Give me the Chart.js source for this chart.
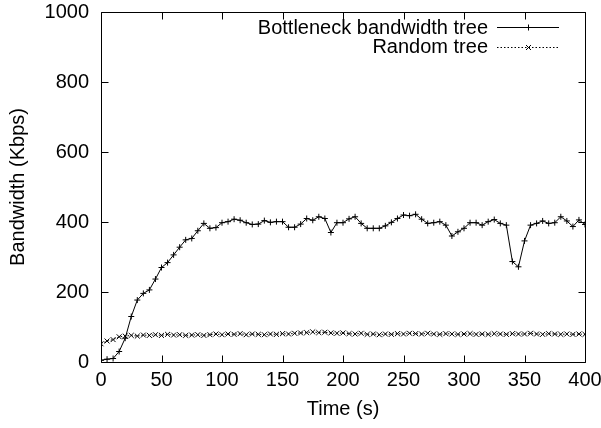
<!DOCTYPE html>
<html>
<head>
<meta charset="utf-8">
<script src="https://cdn.jsdelivr.net/npm/chart.js@4/dist/chart.umd.min.js"></script>
<style>
  html, body { margin: 0; padding: 0; background: #fff; }
  #wrap { width: 601px; height: 428px; }
</style>
</head>
<body>
<div id="wrap"><canvas id="bwChart" width="601" height="428"></canvas></div>
<script>
// Time samples (s)
const times = [0, 5, 10, 15, 20, 25, 30, 35, 40, 45, 50, 55, 60, 65, 70, 75, 80, 85, 90, 95,
  100, 105, 110, 115, 120, 125, 130, 135, 140, 145, 150, 155, 160, 165, 170, 175, 180, 185, 190, 195,
  200, 205, 210, 215, 220, 225, 230, 235, 240, 245, 250, 255, 260, 265, 270, 275, 280, 285, 290, 295,
  300, 305, 310, 315, 320, 325, 330, 335, 340, 345, 350, 355, 360, 365, 370, 375, 380, 385, 390, 395, 400];

// Bandwidth (Kbps)
const bottleneck = [5, 8, 10, 30, 68, 130, 177, 196, 206, 237, 270, 284, 306, 328, 349, 353, 375, 396, 382, 384,
  398, 401, 408, 405, 398, 393, 394, 404, 399, 401, 401, 385, 385, 394, 410, 405, 415, 410, 370, 398,
  398, 409, 415, 396, 382, 382, 382, 389, 399, 410, 420, 418, 422, 408, 396, 398, 401, 391, 360, 372,
  382, 398, 398, 391, 401, 407, 396, 391, 287, 272, 346, 391, 396, 403, 396, 398, 415, 403, 387, 406, 393];

const randomTree = [52, 60, 64, 72, 74, 76, 74, 77, 76, 78, 76, 79, 77, 78, 76, 77, 78, 76, 78, 80,
  78, 80, 79, 81, 78, 80, 79, 78, 80, 79, 81, 80, 82, 83, 84, 86, 84, 85, 83, 82,
  83, 81, 80, 82, 79, 80, 78, 80, 79, 81, 80, 82, 81, 80, 82, 80, 79, 81, 80, 79,
  80, 81, 79, 80, 79, 81, 80, 79, 81, 80, 80, 82, 80, 79, 81, 80, 79, 80, 79, 80, 79];

const xTicks = [0, 50, 100, 150, 200, 250, 300, 350, 400];
const yTicks = [0, 200, 400, 600, 800, 1000];
const seriesNames = ['Bottleneck bandwidth tree', 'Random tree'];

const FONT = "'Liberation Sans', Arial, Helvetica, sans-serif";

// gnuplot-like frame, inward mirrored ticks and key
const framePlugin = {
  id: 'frame',
  afterDraw(chart) {
    const ctx = chart.ctx;
    const a = chart.chartArea;
    const xs = chart.scales.x, ys = chart.scales.y;
    const L = Math.round(a.left) + 0.5, R = Math.round(a.right) + 0.5;
    const T = Math.round(a.top) + 0.5, B = Math.round(a.bottom) + 0.5;
    const tl = 7;
    ctx.save();
    ctx.strokeStyle = '#000';
    ctx.lineWidth = 1;
    ctx.setLineDash([]);
    ctx.beginPath();
    ctx.rect(L, T, R - L, B - T);
    xTicks.forEach(v => {
      const px = Math.round(xs.getPixelForValue(v)) + 0.5;
      ctx.moveTo(px, B); ctx.lineTo(px, B - tl);
      ctx.moveTo(px, T); ctx.lineTo(px, T + tl);
    });
    yTicks.forEach(v => {
      const py = Math.round(ys.getPixelForValue(v)) + 0.5;
      ctx.moveTo(L, py); ctx.lineTo(L + tl, py);
      ctx.moveTo(R, py); ctx.lineTo(R - tl, py);
    });
    ctx.stroke();

    // key
    ctx.font = '20px ' + FONT;
    ctx.fillStyle = '#000';
    ctx.textAlign = 'right';
    ctx.textBaseline = 'alphabetic';
    const rows = [
      { text: seriesNames[0], base: 34, ly: 27.5, dash: [], mark: 'plus' },
      { text: seriesNames[1], base: 53, ly: 47.5, dash: [1.5, 2], mark: 'x' }
    ];
    rows.forEach(r => {
      ctx.fillText(r.text, 488, r.base);
      ctx.beginPath();
      ctx.setLineDash(r.dash);
      ctx.moveTo(497, r.ly); ctx.lineTo(559, r.ly);
      ctx.stroke();
      ctx.setLineDash([]);
      ctx.beginPath();
      const cx = 528.5;
      if (r.mark === 'plus') {
        ctx.moveTo(cx - 3, r.ly); ctx.lineTo(cx + 3, r.ly);
        ctx.moveTo(cx, r.ly - 3); ctx.lineTo(cx, r.ly + 3);
      } else {
        ctx.moveTo(cx - 2.5, r.ly - 2.5); ctx.lineTo(cx + 2.5, r.ly + 2.5);
        ctx.moveTo(cx - 2.5, r.ly + 2.5); ctx.lineTo(cx + 2.5, r.ly - 2.5);
      }
      ctx.stroke();
    });
    ctx.restore();
  }
};

const ctx = document.getElementById('bwChart').getContext('2d');
const bwChart = new Chart(ctx, {
  type: 'line',
  data: {
    datasets: [{
      label: seriesNames[0],
      data: times.map((t, i) => ({ x: t, y: bottleneck[i] })),
      borderColor: '#000',
      backgroundColor: '#000',
      borderWidth: 1,
      tension: 0,
      pointStyle: 'cross',
      pointRadius: 3,
      pointBorderWidth: 1,
      pointBorderColor: '#000'
    }, {
      label: seriesNames[1],
      data: times.map((t, i) => ({ x: t, y: randomTree[i] })),
      borderColor: '#000',
      backgroundColor: '#000',
      borderWidth: 1,
      borderDash: [1.5, 2],
      tension: 0,
      pointStyle: 'crossRot',
      pointRadius: 3.5,
      pointBorderWidth: 1,
      pointBorderColor: '#000'
    }]
  },
  options: {
    responsive: false,
    animation: false,
    devicePixelRatio: 1,
    layout: { padding: { top: 12, right: 16, left: 0, bottom: 0 } },
    plugins: {
      legend: { display: false },
      tooltip: { enabled: false }
    },
    scales: {
      x: {
        type: 'linear',
        min: 0,
        max: 400,
        afterBuildTicks: s => { s.ticks = xTicks.map(v => ({ value: v })); },
        afterFit: s => { s.height = 66; s.paddingLeft = 0; s.paddingRight = 0; },
        grid: { display: false, drawTicks: false },
        border: { display: false },
        ticks: { color: '#000', font: { family: FONT, size: 20 }, padding: 6, maxRotation: 0, autoSkip: false, callback: v => String(v) },
        title: { display: true, text: 'Time (s)', color: '#000', font: { family: FONT, size: 20 }, padding: { top: 0, bottom: 7 } }
      },
      y: {
        min: 0,
        max: 1000,
        afterBuildTicks: s => { s.ticks = yTicks.map(v => ({ value: v })); },
        afterFit: s => { s.width = 101; s.paddingTop = 0; s.paddingBottom = 0; },
        grid: { display: false, drawTicks: false },
        border: { display: false },
        ticks: { color: '#000', font: { family: FONT, size: 20 }, padding: 12, callback: v => String(v) },
        title: { display: true, text: 'Bandwidth (Kbps)', color: '#000', font: { family: FONT, size: 20 }, padding: { top: 6, bottom: 0 } }
      }
    }
  },
  plugins: [framePlugin]
});
</script>
</body>
</html>
